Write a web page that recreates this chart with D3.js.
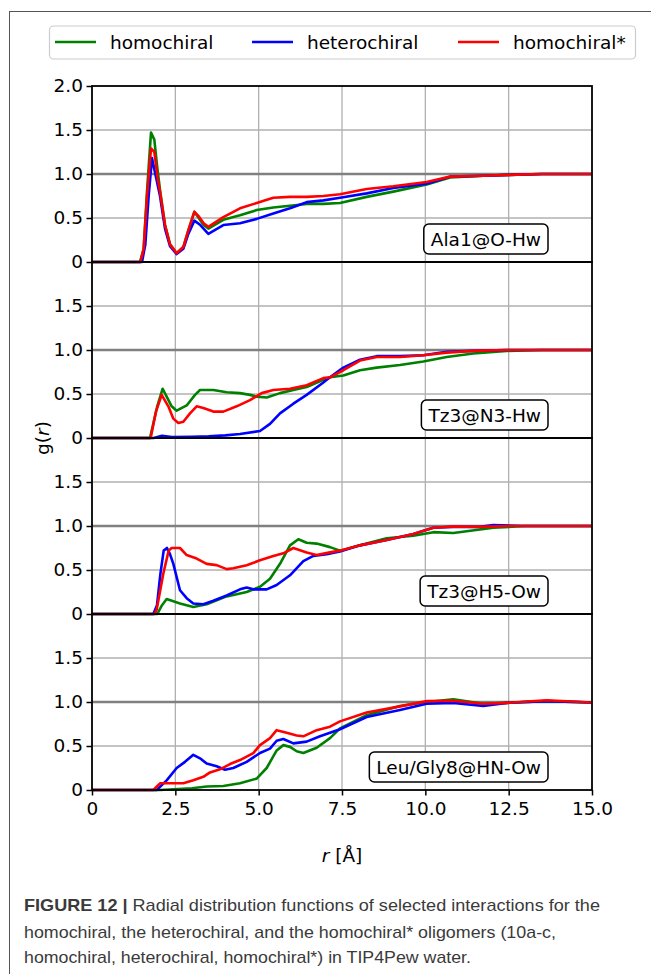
<!DOCTYPE html>
<html><head><meta charset="utf-8">
<script src="https://cdn.jsdelivr.net/npm/d3@7"></script>
<style>html,body{margin:0;padding:0;background:#fff;}svg{display:block;}</style>
</head><body>
<svg id="chart" width="651" height="974"></svg>
<script>
// ---------- DATA ----------
const seriesNames = ["homochiral", "heterochiral", "homochiral*"];
const seriesColors = ["#008000", "#0000ff", "#ff0000"];
const panelLabels = ["Ala1@O-Hw", "Tz3@N3-Hw", "Tz3@H5-Ow", "Leu/Gly8@HN-Ow"];
const xTicks = [0, 2.5, 5, 7.5, 10, 12.5, 15];
const xTickLabels = ["0", "2.5", "5.0", "7.5", "10.0", "12.5", "15.0"];
const yTicks = [0, 0.5, 1.0, 1.5, 2.0];

// Panel 1: Ala1@O-Hw  [r, g(r)]
const ala_homo = [[0,0],[1.44,0],[1.55,0.15],[1.65,0.8],[1.77,1.47],[1.87,1.39],[1.95,1.1],[2.04,0.82],[2.19,0.42],[2.34,0.2],[2.54,0.1],[2.74,0.17],[2.89,0.36],[3.07,0.57],[3.2,0.5],[3.35,0.42],[3.49,0.38],[3.94,0.48],[4.44,0.53],[4.94,0.59],[5.44,0.62],[5.94,0.64],[6.44,0.66],[6.94,0.66],[7.44,0.67],[8.24,0.74],[9.04,0.80],[10.04,0.88],[10.74,0.96],[11.74,0.98],[12.5,0.99],[13.5,1.0],[15,1.0]];
const ala_hetero = [[0,0],[1.5,0],[1.6,0.2],[1.7,0.75],[1.8,1.18],[1.9,1.0],[2.04,0.75],[2.19,0.38],[2.34,0.18],[2.54,0.09],[2.74,0.15],[2.89,0.32],[3.07,0.47],[3.25,0.42],[3.49,0.32],[3.94,0.42],[4.44,0.44],[4.94,0.49],[5.44,0.55],[5.94,0.61],[6.44,0.68],[6.94,0.70],[7.44,0.73],[8.24,0.78],[9.04,0.84],[10.04,0.89],[10.74,0.97],[11.74,0.98],[12.5,0.99],[13.5,1.0],[15,1.0]];
const ala_homoStar = [[0,0],[1.45,0],[1.55,0.15],[1.65,0.75],[1.77,1.29],[1.87,1.25],[1.97,0.95],[2.04,0.80],[2.19,0.42],[2.34,0.2],[2.54,0.1],[2.74,0.17],[2.89,0.36],[3.07,0.57],[3.2,0.52],[3.35,0.44],[3.49,0.40],[3.94,0.51],[4.44,0.61],[4.94,0.67],[5.44,0.73],[5.94,0.74],[6.44,0.74],[6.94,0.75],[7.44,0.77],[8.24,0.83],[9.04,0.86],[10.04,0.91],[10.74,0.97],[11.74,0.98],[12.5,0.99],[13.5,1.0],[15,1.0]];

// Panel 2: Tz3@N3-Hw
const n3_homo = [[0,0],[1.74,0],[1.95,0.35],[2.12,0.56],[2.24,0.47],[2.39,0.36],[2.54,0.31],[2.84,0.37],[3.09,0.49],[3.24,0.545],[3.64,0.545],[4.04,0.52],[4.44,0.51],[4.74,0.49],[4.94,0.47],[5.24,0.46],[5.64,0.51],[6.04,0.545],[6.44,0.58],[6.94,0.66],[7.14,0.69],[7.54,0.71],[8.04,0.77],[8.54,0.80],[9.24,0.83],[9.94,0.87],[10.64,0.92],[11.44,0.96],[12.44,0.99],[13.5,1.0],[15,1.0]];
const n3_hetero = [[0,0],[1.85,0],[2.1,0.025],[2.4,0.01],[3.0,0.015],[3.5,0.02],[4.0,0.03],[4.44,0.045],[5.04,0.08],[5.34,0.16],[5.64,0.28],[6.04,0.39],[6.44,0.49],[6.94,0.63],[7.14,0.69],[7.54,0.80],[8.04,0.89],[8.54,0.93],[9.24,0.93],[9.94,0.94],[10.64,0.98],[11.44,0.99],[12.44,1.0],[15,1.0]];
const n3_homoStar = [[0,0],[1.76,0],[1.92,0.3],[2.09,0.49],[2.29,0.36],[2.44,0.22],[2.59,0.17],[2.74,0.185],[2.94,0.28],[3.14,0.36],[3.34,0.34],[3.64,0.30],[3.94,0.30],[4.34,0.36],[4.74,0.43],[5.09,0.51],[5.44,0.545],[5.94,0.56],[6.44,0.60],[6.94,0.68],[7.14,0.69],[7.54,0.77],[8.04,0.88],[8.54,0.92],[9.24,0.92],[9.94,0.94],[10.64,0.97],[11.44,0.99],[12.44,1.0],[15,1.0]];

// Panel 3: Tz3@H5-Ow
const h5_homo = [[0,0],[1.96,0],[2.1,0.1],[2.24,0.17],[2.64,0.12],[3.04,0.08],[3.44,0.11],[4.04,0.20],[4.64,0.25],[5.04,0.31],[5.34,0.40],[5.64,0.57],[5.94,0.78],[6.19,0.85],[6.44,0.81],[6.74,0.80],[7.14,0.76],[7.44,0.72],[8.04,0.78],[8.84,0.86],[9.64,0.89],[10.24,0.93],[10.84,0.92],[11.64,0.96],[12.04,0.98],[13,1.0],[15,1.0]];
const h5_hetero = [[0,0],[1.84,0],[1.95,0.1],[2.05,0.45],[2.15,0.72],[2.25,0.75],[2.34,0.68],[2.44,0.57],[2.64,0.27],[2.84,0.18],[3.04,0.12],[3.34,0.11],[3.64,0.15],[4.04,0.21],[4.44,0.28],[4.64,0.30],[4.84,0.28],[5.24,0.28],[5.54,0.33],[5.94,0.44],[6.34,0.60],[6.64,0.66],[7.04,0.68],[7.44,0.71],[8.04,0.78],[8.84,0.84],[9.64,0.91],[10.24,0.98],[10.84,0.99],[11.64,0.99],[12.04,1.01],[13,1.0],[15,1.0]];
const h5_homoStar = [[0,0],[1.88,0],[1.94,0.05],[2.14,0.46],[2.3,0.72],[2.39,0.75],[2.64,0.75],[2.84,0.67],[3.14,0.63],[3.44,0.57],[3.74,0.555],[4.04,0.51],[4.24,0.52],[4.64,0.555],[5.04,0.61],[5.44,0.66],[5.74,0.69],[6.04,0.75],[6.44,0.70],[6.74,0.67],[7.14,0.70],[7.44,0.72],[8.04,0.78],[8.84,0.84],[9.64,0.91],[10.24,0.98],[10.84,0.995],[11.64,0.99],[12.5,1.0],[15,1.0]];

// Panel 4: Leu/Gly8@HN-Ow
const hn_homo = [[0,0],[2.04,0],[3.0,0.02],[3.44,0.04],[3.94,0.045],[4.44,0.076],[4.94,0.13],[5.24,0.25],[5.54,0.45],[5.74,0.51],[5.94,0.49],[6.14,0.44],[6.34,0.42],[6.74,0.48],[7.14,0.59],[7.44,0.70],[8.24,0.85],[9.24,0.955],[10.04,1.0],[10.84,1.03],[11.74,0.98],[12.44,0.99],[13.64,1.01],[15,0.995]];
const hn_hetero = [[0,0],[1.94,0],[2.24,0.11],[2.54,0.25],[2.79,0.32],[3.04,0.40],[3.24,0.36],[3.44,0.30],[3.74,0.27],[3.99,0.23],[4.24,0.25],[4.64,0.32],[5.04,0.42],[5.34,0.47],[5.54,0.56],[5.74,0.58],[6.04,0.53],[6.44,0.55],[6.84,0.61],[7.44,0.69],[8.24,0.83],[9.24,0.91],[10.04,0.98],[10.84,0.99],[11.74,0.955],[12.44,0.99],[13.64,1.01],[15,0.995]];
const hn_homoStar = [[0,0],[1.84,0],[2.04,0.076],[2.44,0.076],[2.74,0.076],[3.04,0.11],[3.34,0.15],[3.54,0.20],[3.84,0.235],[4.14,0.295],[4.44,0.34],[4.84,0.42],[5.04,0.51],[5.34,0.59],[5.54,0.68],[5.84,0.65],[6.14,0.62],[6.34,0.61],[6.74,0.68],[7.14,0.72],[7.44,0.78],[8.24,0.88],[9.24,0.95],[10.04,1.01],[10.84,1.015],[11.74,0.98],[12.44,0.99],[13.64,1.02],[15,0.995]];

const panels = [
  [ala_homo, ala_hetero, ala_homoStar],
  [n3_homo, n3_hetero, n3_homoStar],
  [h5_homo, h5_hetero, h5_homoStar],
  [hn_homo, hn_hetero, hn_homoStar]
];

const captionLines = [
  {bold: "FIGURE 12 | ", text: "Radial distribution functions of selected interactions for the"},
  {bold: "", text: "homochiral, the heterochiral, and the homochiral* oligomers (10a-c,"},
  {bold: "", text: "homochiral, heterochiral, homochiral*) in TIP4Pew water."}
];

// ---------- LAYOUT ----------
const svg = d3.select("#chart");
const FONT = "DejaVu Sans, sans-serif";
const left = 92, right = 592, top0 = 86, panelH = 176;

// outer frame
svg.append("rect").attr("x", 9.5).attr("y", 11.5).attr("width", 700).attr("height", 1000)
  .attr("fill", "none").attr("stroke", "#555").attr("stroke-width", 1);

const x = d3.scaleLinear().domain([0, 15]).range([left, right]);

panels.forEach((series, i) => {
  const pTop = top0 + i * panelH, pBot = pTop + panelH;
  const y = d3.scaleLinear().domain([0, 2]).range([pBot, pTop]);
  const g = svg.append("g");
  // grid
  g.selectAll(".vg").data(xTicks.slice(1, -1)).enter().append("line")
    .attr("x1", d => x(d)).attr("x2", d => x(d)).attr("y1", pTop).attr("y2", pBot)
    .attr("stroke", "#b0b0b0").attr("stroke-width", 1.3);
  g.selectAll(".hg").data([0.5, 1.5]).enter().append("line")
    .attr("x1", left).attr("x2", right).attr("y1", d => y(d)).attr("y2", d => y(d))
    .attr("stroke", "#b0b0b0").attr("stroke-width", 1.3);
  g.append("line").attr("x1", left).attr("x2", right).attr("y1", y(1)).attr("y2", y(1))
    .attr("stroke", "#808080").attr("stroke-width", 2.4);
  // lines
  const line = d3.line().x(d => x(d[0])).y(d => y(d[1]));
  series.forEach((s, j) => {
    g.append("path").datum(s).attr("d", line).attr("fill", "none")
      .attr("stroke", seriesColors[j]).attr("stroke-width", 2.6).attr("stroke-linejoin", "round");
  });
  // frame
  g.append("rect").attr("x", left).attr("y", pTop).attr("width", right - left).attr("height", panelH)
    .attr("fill", "none").attr("stroke", "#000").attr("stroke-width", 1.8);
  // y axis
  const yt = i === 0 ? yTicks : yTicks.slice(0, -1);
  const ax = d3.axisLeft(y).tickValues(yt).tickSize(5.5).tickPadding(3.5)
    .tickFormat(d => d === 0 ? "0" : d3.format(".1f")(d));
  const ag = g.append("g").attr("transform", `translate(${left},0)`).call(ax);
  ag.select(".domain").remove();
  ag.selectAll("line").attr("stroke", "#000").attr("stroke-width", 1.5);
  ag.selectAll("text").attr("font-family", FONT).attr("font-size", 18.5).attr("fill", "#000");
  // label box
  const box = g.append("rect");
  const lab = g.append("text").attr("font-family", FONT).attr("font-size", 18.5)
    .attr("text-anchor", "end").attr("x", 541).attr("y", pBot - 23).attr("dominant-baseline", "central")
    .text(panelLabels[i]);
  const w = lab.node().getComputedTextLength();
  box.attr("x", 541 - w - 7).attr("y", pBot - 38)
    .attr("width", w + 14).attr("height", 30).attr("rx", 5)
    .attr("fill", "#fff").attr("stroke", "#000").attr("stroke-width", 1.5);
  if (i === panels.length - 1) {
    const xa = d3.axisBottom(x).tickValues(xTicks).tickSize(5.5).tickPadding(6)
      .tickFormat((d, k) => xTickLabels[k]);
    const xg = g.append("g").attr("transform", `translate(0,${pBot})`).call(xa);
    xg.select(".domain").remove();
    xg.selectAll("line").attr("stroke", "#000").attr("stroke-width", 1.5);
    xg.selectAll("text").attr("font-family", FONT).attr("font-size", 18.5).attr("fill", "#000");
  }
});

// axis titles
const xt = svg.append("text").attr("x", (left + right) / 2).attr("y", 862)
  .attr("text-anchor", "middle").attr("font-family", FONT).attr("font-size", 18.5);
xt.append("tspan").attr("font-style", "italic").text("r");
xt.append("tspan").text(" [Å]");
const ytl = svg.append("text").attr("transform", `translate(49,${top0 + 2 * panelH}) rotate(-90)`)
  .attr("text-anchor", "middle").attr("font-family", FONT).attr("font-size", 18.5);
ytl.append("tspan").text("g(");
ytl.append("tspan").attr("font-style", "italic").text("r");
ytl.append("tspan").text(")");

// legend
const lg = svg.append("g");
lg.append("rect").attr("x", 49.5).attr("y", 26).attr("width", 586).attr("height", 33).attr("rx", 4)
  .attr("fill", "#fff").attr("stroke", "#cccccc").attr("stroke-width", 1.2);
const legX = [55, 252, 458];
seriesNames.forEach((n, j) => {
  lg.append("line").attr("x1", legX[j]).attr("x2", legX[j] + 41).attr("y1", 42).attr("y2", 42)
    .attr("stroke", seriesColors[j]).attr("stroke-width", 2.6);
  lg.append("text").attr("x", legX[j] + 55).attr("y", 42).attr("dominant-baseline", "central")
    .attr("font-family", FONT).attr("font-size", 18.5).text(n);
});

// caption
const capWidths = [576, 532, 447];
const capY = [911, 938, 963];
captionLines.forEach((c, k) => {
  const t = svg.append("text").attr("x", 24).attr("y", capY[k])
    .attr("font-family", "Liberation Sans Narrow, Liberation Sans, Arial, sans-serif")
    .attr("font-size", 17).attr("fill", "#3a3a3a")
    .attr("textLength", capWidths[k]).attr("lengthAdjust", "spacingAndGlyphs");
  if (c.bold) t.append("tspan").attr("font-weight", "bold").text(c.bold);
  t.append("tspan").text(c.text);
});
</script>
</body></html>
